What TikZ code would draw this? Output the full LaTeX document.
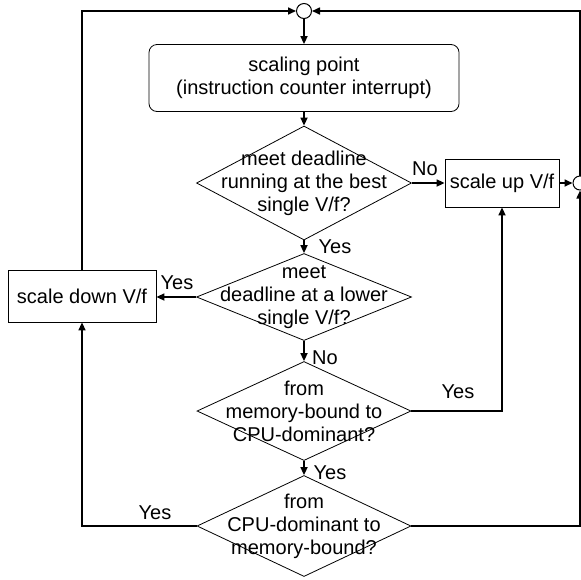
\documentclass[tikz,border=0pt]{standalone}
\usepackage{fontspec}
\setmainfont{Liberation Sans}
\usetikzlibrary{shapes.geometric,arrows.meta}
\tikzset{
  flow/.style={line width=0.8pt,-{Triangle[length=4pt,width=3.5pt]}},
  plain/.style={line width=0.8pt},
  startbox/.style={draw,rounded corners=4pt,align=center,minimum width=155pt,minimum height=33.5pt},
  actbox/.style={draw,align=center,inner sep=0pt},
  decision/.style={draw,diamond,align=center,inner sep=-30pt},
  junction/.style={draw,circle,inner sep=0pt,line width=0.5pt},
  lbl/.style={inner sep=0pt}
}
\begin{document}
\begin{tikzpicture}[x=0.5pt,y=-0.5pt,font=\fontsize{10}{11.5}\selectfont]
        \useasboundingbox (0,0) rectangle (581,579);
        \node[junction,minimum size=7.5pt] (jtop) at (304,11) {};
        \node[startbox] (start) at (304,78) {scaling point\\(instruction counter interrupt)};
        \node[decision,minimum width=107.5pt,minimum height=57pt] (d1) at (304,183) {meet deadline\\running at the best\\single V/f?};
        \node[actbox,minimum width=57pt,minimum height=24pt] (sup) at (502,183) {scale up V/f};
        \node[junction,minimum size=7pt] (jright) at (580,183) {};
        \node[decision,minimum width=107.5pt,minimum height=43.5pt] (d2) at (304,297) {meet\\deadline at a lower\\single V/f?};
        \node[actbox,minimum width=74pt,minimum height=26pt] (sdown) at (82,296) {scale down V/f};
        \node[decision,minimum width=107pt,minimum height=49.5pt] (d3) at (304,411) {from\\memory-bound to\\CPU-dominant?};
        \node[decision,minimum width=107pt,minimum height=50.5pt] (d4) at (304,526) {from\\CPU-dominant to\\memory-bound?};
        % labels
        \node[lbl] (no1) at (425,169) {No};
        \node[lbl] (yes1) at (335,247) {Yes};
        \node[lbl] (yes2) at (177,283) {Yes};
        \node[lbl] (no2) at (325,358) {No};
        \node[lbl] (yes3) at (458,392) {Yes};
        \node[lbl] (yes4) at (330,473) {Yes};
        \node[lbl] (yes5) at (155,513) {Yes};
        % connectors
        \draw[flow] (jtop) -- (start);
        \draw[flow] (start) -- (d1);
        \draw[flow] (d1.east) -- (sup.west);
        \draw[flow] (d1.south) -- (d2.north);
        \draw[flow] (d2.west) -- (sdown.east |- d2.west);
        \draw[flow] (d2.south) -- (d3.north);
        \draw[flow] (d3.east) -| (sup.south);
        \draw[flow] (d3.south) -- (d4.north);
        \draw[flow] (d4.west) -| (sdown.south);
        \draw[flow] (d4.east) -| (jright.south);
        \draw[flow] (sup.east) -- (jright.west);
        \draw[flow] (jright.north) |- (jtop.east);
        \draw[flow] (sdown.north) |- (jtop.west);
    \end{tikzpicture}
\end{document}
